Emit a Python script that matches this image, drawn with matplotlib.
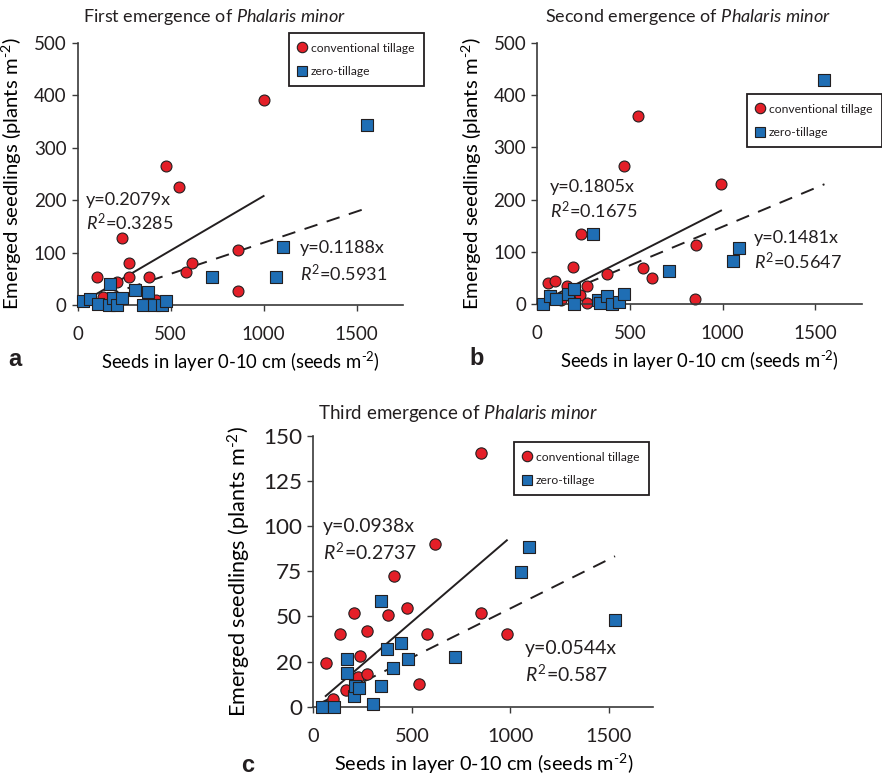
import numpy as np
import matplotlib
matplotlib.use('Agg')
import matplotlib.pyplot as plt
from matplotlib.lines import Line2D

plt.rcParams['font.family'] = ['Lato', 'DejaVu Sans']
plt.rcParams['mathtext.fontset'] = 'custom'
plt.rcParams['mathtext.rm'] = 'Lato'
plt.rcParams['mathtext.it'] = 'Lato:italic'
plt.rcParams['text.color'] = '#231f20'

# ---- data ----
# panel a: first emergence
a_ct_x = [102, 135, 210, 237, 278, 278, 386, 422, 476, 546, 583, 614, 864, 864, 1000]
a_ct_y = [54, 16, 43, 127, 81, 54, 54, 10, 266, 225, 62, 81, 104, 27, 392]
a_zt_x = [30, 68, 108, 174, 167, 189, 210, 240, 310, 378, 350, 410, 452, 475, 722, 1065, 1105, 1555]
a_zt_y = [7, 12, 2, 40, 0, 14, 0, 13, 28, 24, 0, 0, 0, 8, 53, 53, 111, 343]

# panel b: second emergence
b_ct_x = [57, 95, 126, 158, 194, 230, 234, 266, 266, 374, 469, 541, 572, 617, 853, 856, 991]
b_ct_y = [40, 44, 8, 34, 71, 17, 134, 35, 1, 57, 265, 361, 69, 50, 10, 112, 230]
b_zt_x = [29, 68, 101, 167, 200, 200, 302, 329, 340, 378, 403, 440, 468, 712, 1054, 1090, 1549]
b_zt_y = [0, 15, 10, 20, 28, 0, 134, 8, 1, 16, 0, 3, 19, 64, 82, 107, 430]

# panel c: third emergence
c_ct_x = [63, 102, 168, 134, 208, 228, 237, 275, 275, 378, 407, 476, 537, 576, 616, 852, 852, 982]
c_ct_y = [24.4, 4.4, 9.4, 40.5, 51.7, 16.2, 27.8, 42.0, 18.0, 51.0, 72.5, 54.5, 12.4, 40.5, 90, 140.6, 51.7, 40.5]
c_zt_x = [43, 106, 170, 170, 208, 214, 233, 305, 344, 344, 375, 406, 445, 478, 717, 1056, 1095, 1531]
c_zt_y = [0, 0, 26.2, 18.5, 6.0, 11.5, 10.2, 1.5, 58.3, 11.5, 31.8, 21.2, 35.2, 26.2, 27.7, 74.5, 88.6, 48]

slopes_ct = [0.2079, 0.1805, 0.0938]
slopes_zt = [0.1188, 0.1481, 0.0544]
r2_ct = ['0.3285', '0.1675', '0.2737']
r2_zt = ['0.5931', '0.5647', '0.587']

c_yticks = [0, 25, 50, 75, 100, 125, 150]
c_yticklabels = ['0', '20', '50', '75', '100', '125', '150']

RED = '#e41f28'
BLUE = '#1f6eb4'
EDGE = '#231f20'
TXT = '#231f20'
SUP = '$^{\\text{-2}}$'

fig = plt.figure(figsize=(8.82, 7.77), dpi=100)
ax_a = fig.add_axes([0.0881, 0.6075, 0.3688, 0.3372])
ax_b = fig.add_axes([0.6092, 0.6088, 0.3678, 0.3359])
ax_c = fig.add_axes([0.3552, 0.0905, 0.3855, 0.3487])


def draw_panel(ax, ctx, cty, ztx, zty, k_ct, k_zt, r2a, r2b, xmax, ymax, scale,
               txt_ct, txt_zt, yscale=1.0):
    fs = 13.5 * scale
    # fitted lines through the origin
    xs = np.array([min(ctx), max(ctx)])
    ax.plot(xs, k_ct * xs, color=TXT, lw=1.4, zorder=1)
    xs = np.array([min(ztx), max(ztx)])
    ax.plot(xs, k_zt * xs, color=TXT, lw=1.4, ls=(0, (7, 5)), zorder=1)
    ms = 62 * scale
    ax.scatter(ctx, cty, s=ms, marker='o', facecolor=RED, edgecolor=EDGE,
               linewidth=0.8, zorder=2, clip_on=False)
    ax.scatter(ztx, zty, s=ms * 1.05, marker='s', facecolor=BLUE, edgecolor=EDGE,
               linewidth=0.8, zorder=3, clip_on=False)
    ax.set_xlim(0, xmax)
    ax.set_ylim(0, ymax)
    ax.set_xticks([0, 500, 1000, 1500])
    for s in ['top', 'right']:
        ax.spines[s].set_visible(False)
    for s in ['left', 'bottom']:
        ax.spines[s].set_linewidth(1.2)
        ax.spines[s].set_color('#3a3a3a')
    ax.tick_params(axis='both', direction='out', length=4, width=1.0,
                   color='#3a3a3a', labelcolor=TXT)
    ax.tick_params(axis='x', pad=11, labelsize=fs)
    ax.tick_params(axis='y', pad=4, labelsize=fs * yscale)
    ax.set_xlabel('Seeds in layer 0-10 cm (seeds m' + SUP + ')',
                  fontsize=fs * 0.99, labelpad=5)
    ax.set_ylabel('Emerged seedlings (plants m' + SUP + ')',
                  fontsize=fs * 1.08, labelpad=7)
    efs = 13 * scale
    ax.text(txt_ct[0], txt_ct[1], 'y=%.4gx' % k_ct, fontsize=efs, va='center')
    ax.text(txt_ct[0], txt_ct[2], '$R^{\\mathregular{2}}$=' + r2a,
            fontsize=efs, va='center')
    ax.text(txt_zt[0], txt_zt[1], 'y=%.4gx' % k_zt, fontsize=efs, va='center')
    ax.text(txt_zt[0], txt_zt[2], '$R^{\\mathregular{2}}$=' + r2b,
            fontsize=efs, va='center')
    handles = [Line2D([], [], ls='none', marker='o', ms=7.5, mfc=RED, mec=EDGE, mew=0.8),
               Line2D([], [], ls='none', marker='s', ms=7.5, mfc=BLUE, mec=EDGE, mew=0.8)]
    return handles


h = draw_panel(ax_a, a_ct_x, a_ct_y, a_zt_x, a_zt_y, slopes_ct[0], slopes_zt[0],
               r2_ct[0], r2_zt[0], 1750, 500, 1.0, (45, 200, 157), (1195, 109, 61))
draw_panel(ax_b, b_ct_x, b_ct_y, b_zt_x, b_zt_y, slopes_ct[1], slopes_zt[1],
           r2_ct[1], r2_zt[1], 1750, 500, 1.0, (68, 225, 179), (1170, 127, 81))
draw_panel(ax_c, c_ct_x, c_ct_y, c_zt_x, c_zt_y, slopes_ct[2], slopes_zt[2],
           r2_ct[2], r2_zt[2], 1725, 150, 1.07, (48, 99.6, 85.4), (1072, 32.3, 17.9),
           yscale=1.12)
ax_a.set_yticks(range(0, 501, 100))
ax_b.set_yticks(range(0, 501, 100))
ax_c.set_yticks(c_yticks)
ax_c.set_yticklabels(c_yticklabels)

labels = ['conventional tillage', 'zero-tillage']
for ax, pos in [(ax_a, (0.3277, 0.9575)), (ax_b, (0.847, 0.879)), (ax_c, (0.5828, 0.4311))]:
    leg = ax.legend(h, labels, loc='upper left', bbox_to_anchor=pos,
                    bbox_transform=fig.transFigure, fontsize=8.7, frameon=True,
                    fancybox=False, edgecolor='#231f20', handlelength=0.6,
                    handletextpad=0.4, labelspacing=1.0, borderpad=0.8,
                    borderaxespad=0, framealpha=1)
    leg.get_frame().set_linewidth(1.3)

# titles
fig.text(0.0941, 0.978, 'First emergence of $\\mathit{Phalaris\\ minor}$',
         fontsize=13, va='center', ha='left')
fig.text(0.618, 0.978, 'Second emergence of $\\mathit{Phalaris\\ minor}$',
         fontsize=13, va='center', ha='left')
fig.text(0.3605, 0.4672, 'Third emergence of $\\mathit{Phalaris\\ minor}$',
         fontsize=13.5, va='center', ha='left')

# panel letters
for x, y, t in [(0.017, 0.5367, 'a'), (0.5408, 0.539, 'b'), (0.2812, 0.0154, 'c')]:
    fig.text(x, y, t, fontsize=17, fontweight='bold', family='Liberation Sans',
             ha='center', va='center')

fig.savefig('out.png', dpi=100)
